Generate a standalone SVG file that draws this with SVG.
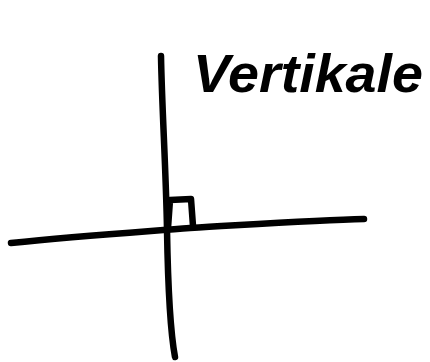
<svg xmlns="http://www.w3.org/2000/svg" width="430" height="362" viewBox="0 0 430 362">
<style>
.ink{fill:none;stroke:#000;stroke-width:6.5;stroke-linecap:round;stroke-linejoin:round}
.lbl{font-family:"Liberation Sans",Arial,sans-serif;font-style:italic;font-weight:bold;font-size:54px;fill:#000}
</style>
<rect width="430" height="362" fill="#fff"/>
<g id="connectors">
<path id="vertical" class="ink" d="M161,56 C162,110 166,170 167,230 C168,290 170,330 175,357"/>
<path id="horizontal" class="ink" d="M11,243 C80,236 140,232 190,228 C260,224 320,220 364,219"/>
<path id="right-angle" class="ink" d="M168,228 L170,200 L191,199 L193,226"/>
</g>
<g id="label">
<text class="lbl" x="193" y="92" textLength="230" lengthAdjust="spacingAndGlyphs">Vertikale</text>
</g>
</svg>
